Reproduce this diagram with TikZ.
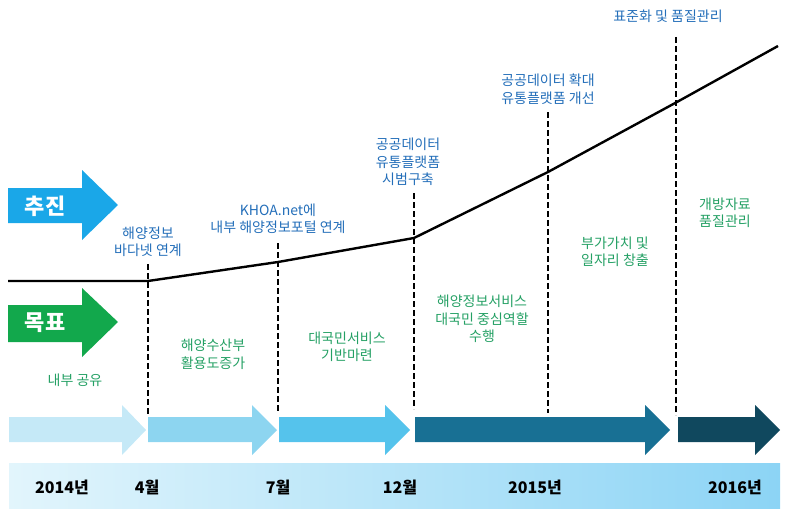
\documentclass[tikz,border=0pt]{standalone}
\usepackage{fontspec}
\setmainfont{Noto Sans CJK KR}
\definecolor{bluetxt}{RGB}{35,110,185}
\definecolor{greentxt}{RGB}{36,160,100}
\definecolor{arrA}{RGB}{197,233,247}
\definecolor{arrB}{RGB}{141,213,240}
\definecolor{arrC}{RGB}{85,195,236}
\definecolor{arrD}{RGB}{24,112,148}
\definecolor{arrE}{RGB}{16,72,94}
\definecolor{tuijin}{RGB}{26,167,232}
\definecolor{mokpyo}{RGB}{18,168,76}
\definecolor{barL}{RGB}{226,245,252}
\definecolor{barR}{RGB}{140,212,245}
\tikzset{
  bluelbl/.style={text=bluetxt, font=\fontsize{14}{17.5}\selectfont, align=center, inner sep=0pt},
  greenlbl/.style={text=greentxt, font=\fontsize{14}{17.5}\selectfont, align=center, inner sep=0pt},
  yearlbl/.style={text=black, font=\bfseries\fontsize{16}{18}\selectfont, inner sep=0pt},
  biglbl/.style={text=white, font=\bfseries\fontsize{22}{24}\selectfont, inner sep=0pt},
  dashln/.style={line width=2.2pt, dash pattern=on 6pt off 3pt},
  trendln/.style={line width=2.4pt, line join=round}
}
\begin{document}
\begin{tikzpicture}[x=1pt,y=-1pt]
\useasboundingbox (0,0) rectangle (787,511);

% timeline bar
\shade[left color=barL, right color=barR] (9,463) rectangle (780,508);

% bottom arrows
\fill[arrA] (9,417) -- (122,417) -- (122,405) -- (146,430) -- (122,455) -- (122,442) -- (9,442) -- cycle;
\fill[arrB] (148,417) -- (252,417) -- (252,405) -- (277,430) -- (252,455) -- (252,442) -- (148,442) -- cycle;
\fill[arrC] (279,417) -- (385,417) -- (385,405) -- (410,430) -- (385,455) -- (385,442) -- (279,442) -- cycle;
\fill[arrD] (415,417) -- (645,417) -- (645,405) -- (670,430) -- (645,455) -- (645,442) -- (415,442) -- cycle;
\fill[arrE] (678,417) -- (755,417) -- (755,405) -- (780,430) -- (755,455) -- (755,442) -- (678,442) -- cycle;

% left big arrows
\fill[tuijin] (8,188) -- (82,188) -- (82,170) -- (118,205) -- (82,240) -- (82,223) -- (8,223) -- cycle;
\node[biglbl] (tj) at (45,206) {추진};
\fill[mokpyo] (8,305) -- (82,305) -- (82,288) -- (118,322) -- (82,357) -- (82,342) -- (8,342) -- cycle;
\node[biglbl] (mp) at (45,323) {목표};

% trend line points
\coordinate (p0) at (8,281);
\coordinate (p1) at (148,281);
\coordinate (p2) at (278,262);
\coordinate (p3) at (414,238);
\coordinate (p4) at (548,172);
\coordinate (p5) at (677,102);
\coordinate (p6) at (778,46);
\draw[trendln] (p0) -- (p1) -- (p2) -- (p3) -- (p4) -- (p5) -- (p6);

% dashed lines
\coordinate (d1t) at (148,264); \coordinate (d1b) at (148,414);
\coordinate (d2t) at (278,243); \coordinate (d2b) at (278,412);
\coordinate (d3t) at (414,193); \coordinate (d3b) at (414,409);
\coordinate (d4t) at (548,112); \coordinate (d4b) at (548,413);
\coordinate (d5t) at (676,37);  \coordinate (d5b) at (676,415);
\draw[dashln] (d1t) -- (d1b);
\draw[dashln] (d2t) -- (d2b);
\draw[dashln] (d3t) -- (d3b);
\draw[dashln] (d4t) -- (d4b);
\draw[dashln] (d5t) -- (d5b);

% blue labels
\node[bluelbl] (b1) at (148,242) {해양정보\\바다넷 연계};
\node[bluelbl] (b2) at (278,219) {KHOA.net에\\내부 해양정보포털 연계};
\node[bluelbl] (b3) at (408,162) {공공데이터\\유통플랫폼\\시범구축};
\node[bluelbl] (b4) at (548,89) {공공데이터 확대\\유통플랫폼 개선};
\node[bluelbl] (b5) at (668,16) {표준화 및 품질관리};

% green labels
\node[greenlbl] (g0) at (75,380) {내부 공유};
\node[greenlbl] (g1) at (213,354) {해양수산부\\활용도증가};
\node[greenlbl] (g2) at (347,347) {대국민서비스\\기반마련};
\node[greenlbl] (g3) at (482,319) {해양정보서비스\\대국민 중심역할\\수행};
\node[greenlbl] (g4) at (615,252) {부가가치 및\\일자리 창출};
\node[greenlbl] (g5) at (725,213) {개방자료\\품질관리};

% year labels
\node[yearlbl] (y1) at (62,487) {2014년};
\node[yearlbl] (y2) at (147,487) {4월};
\node[yearlbl] (y3) at (278,487) {7월};
\node[yearlbl] (y4) at (400,487) {12월};
\node[yearlbl] (y5) at (535,487) {2015년};
\node[yearlbl] (y6) at (735,487) {2016년};
\end{tikzpicture}
\end{document}
